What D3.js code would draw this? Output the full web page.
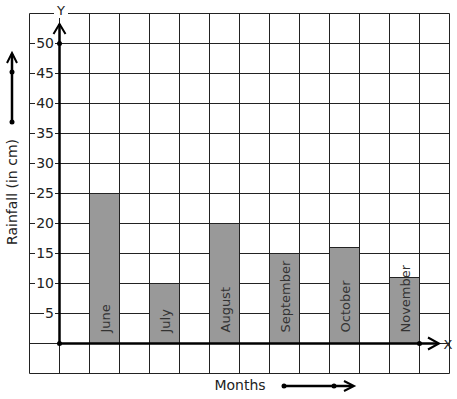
<!DOCTYPE html>
<html>
<head>
<title>Rainfall</title>
<style>
  body { margin: 0; background: #fff; }
  svg { display: block; font-family: "DejaVu Sans", sans-serif; }
</style>
</head>
<body>
<script src="https://cdn.jsdelivr.net/npm/d3@7"></script>
<script>
const months = ["June", "July", "August", "September", "October", "November"];
const rainfall = [25, 10, 20, 15, 16, 11];
const yTicks = [5, 10, 15, 20, 25, 30, 35, 40, 45, 50];

const width = 457, height = 399;

// grid units: one column = 30px, one row = 5 cm
const x = d3.scaleLinear().domain([-1, 13]).range([29.5, 449.5]);
const y = d3.scaleLinear().domain([-5, 55]).range([373.5, 13.5]);

const svg = d3.select("body").append("svg")
    .attr("width", width)
    .attr("height", height);

// grid
const grid = svg.append("g").attr("stroke", "#222").attr("stroke-width", 1);
grid.selectAll("line.v")
  .data(d3.range(-1, 14))
  .join("line")
    .attr("x1", d => x(d)).attr("x2", d => x(d))
    .attr("y1", y(-5)).attr("y2", y(55));
grid.selectAll("line.h")
  .data(d3.range(-5, 60, 5))
  .join("line")
    .attr("y1", d => y(d)).attr("y2", d => y(d))
    .attr("x1", x(-1)).attr("x2", x(13));

// bars
svg.append("g")
  .selectAll("rect")
  .data(rainfall)
  .join("rect")
    .attr("x", (d, i) => x(i * 2 + 1))
    .attr("y", d => y(d))
    .attr("width", x(2) - x(1))
    .attr("height", d => y(0) - y(d))
    .attr("fill", "#999")
    .attr("stroke", "#222");

// bar labels
svg.append("g")
  .selectAll("text")
  .data(months)
  .join("text")
    .attr("transform", (d, i) => `translate(${x(i * 2 + 1.5) + 5},${y(0) - 11}) rotate(-90)`)
    .attr("font-size", 13)
    .attr("fill", "#333")
    .text(d => d);

// y tick labels with white background
const tick = svg.append("g")
  .selectAll("g")
  .data(yTicks)
  .join("g")
    .attr("transform", d => `translate(54,${y(d)})`);
tick.append("rect")
    .attr("x", d => d < 10 ? -10 : -19)
    .attr("y", -7)
    .attr("width", d => d < 10 ? 11 : 20)
    .attr("height", 13)
    .attr("fill", "#fff");
tick.append("text")
    .attr("text-anchor", "end")
    .attr("dy", "0.35em")
    .attr("font-size", 14)
    .attr("fill", "#222")
    .text(d => d);

// axes
const axes = svg.append("g").attr("stroke", "#000").attr("fill", "none").attr("stroke-width", 2.5);
axes.append("line")
    .attr("x1", x(0)).attr("y1", y(0)).attr("x2", x(0)).attr("y2", 24);
axes.append("path")
    .attr("stroke-width", 2)
    .attr("d", `M${x(0) - 6},34L${x(0)},24L${x(0) + 6},34`);
axes.append("line")
    .attr("x1", x(0)).attr("y1", y(0)).attr("x2", 438).attr("y2", y(0));
axes.append("path")
    .attr("stroke-width", 2)
    .attr("d", `M428,${y(0) - 6}L439,${y(0)}L428,${y(0) + 6}`);

// axis dots
const dots = [[x(0), y(50)], [x(0), y(0)], [x(12), y(0)]];
svg.append("g")
  .selectAll("circle")
  .data(dots)
  .join("circle")
    .attr("cx", d => d[0]).attr("cy", d => d[1]).attr("r", 2.5)
    .attr("fill", "#000");

// axis letters
svg.append("rect").attr("x", 54).attr("y", 4).attr("width", 14).attr("height", 14).attr("fill", "#fff");
svg.append("text").attr("x", 61).attr("y", 15).attr("text-anchor", "middle")
    .attr("font-size", 13).attr("fill", "#222").text("Y");
svg.append("text").attr("x", 448).attr("y", y(0) + 5).attr("text-anchor", "middle")
    .attr("font-size", 13).attr("fill", "#222").text("X");

// axis titles
svg.append("text")
    .attr("transform", `translate(17,192) rotate(-90)`)
    .attr("text-anchor", "middle")
    .attr("font-size", 14)
    .attr("fill", "#222")
    .text("Rainfall (in cm)");
svg.append("text")
    .attr("x", 240).attr("y", 390)
    .attr("text-anchor", "middle")
    .attr("font-size", 14)
    .attr("fill", "#222")
    .text("Months");

// direction arrows beside titles
const side = svg.append("g").attr("stroke", "#000").attr("fill", "none").attr("stroke-width", 2.5);
side.append("line").attr("x1", 12).attr("y1", 122).attr("x2", 12).attr("y2", 54);
side.append("path").attr("stroke-width", 2).attr("d", "M7,63L12,53L17,63");
side.append("line").attr("x1", 284).attr("y1", 386).attr("x2", 352).attr("y2", 386);
side.append("path").attr("stroke-width", 2).attr("d", "M344,381L354,386L344,391");
svg.append("g")
  .selectAll("circle")
  .data([[12, 122], [12, 72], [284, 386], [334, 386]])
  .join("circle")
    .attr("cx", d => d[0]).attr("cy", d => d[1]).attr("r", 2.5)
    .attr("fill", "#000");
</script>
</body>
</html>
